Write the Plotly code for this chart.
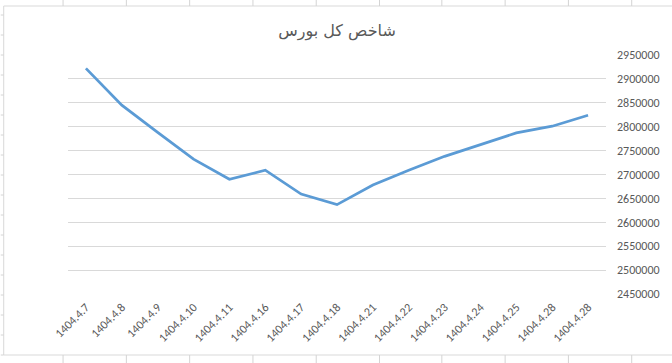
import plotly.graph_objects as go

# ---- data ----
categories = ["1404.4.7", "1404.4.8", "1404.4.9", "1404.4.10", "1404.4.11",
              "1404.4.16", "1404.4.17", "1404.4.18", "1404.4.21", "1404.4.22",
              "1404.4.23", "1404.4.24", "1404.4.25", "1404.4.28", "1404.4.28"]
index_values = [2922000, 2845000, 2788000, 2732000, 2690000,
                2709000, 2659000, 2637000, 2678000, 2709000,
                2738000, 2763000, 2787000, 2801000, 2824000]
y_ticks = [2450000, 2500000, 2550000, 2600000, 2650000, 2700000,
           2750000, 2800000, 2850000, 2900000, 2950000]
title_text = "شاخص کل بورس"

W, H = 672, 363
L, R, T, B = 68, 60, 55, 69
pw, ph = W - L - R, H - T - B

x_pos = list(range(len(categories)))

fig = go.Figure()
fig.add_trace(go.Scatter(
    x=x_pos, y=index_values, mode="lines",
    line=dict(color="#5B9BD5", width=2.75),
    hoverinfo="skip", showlegend=False,
))

# spreadsheet background decoration (pixel -> paper)
def px(xp):
    return (xp - L) / pw

def py(yp):
    return (H - B - yp) / ph

grid_col = "#d4d4d4"
shapes = []
# chart border
shapes.append(dict(type="rect", xref="paper", yref="paper",
                   x0=px(3), x1=px(700), y0=py(6), y1=py(355),
                   line=dict(color="#d9d9d9", width=1), fillcolor="rgba(0,0,0,0)",
                   layer="below"))
cols = [63, 127, 191, 255, 319, 383, 446, 510, 574, 638]
for c in cols:
    shapes.append(dict(type="line", xref="paper", yref="paper",
                       x0=px(c), x1=px(c), y0=py(0), y1=py(6),
                       line=dict(color=grid_col, width=1), layer="below"))
    shapes.append(dict(type="line", xref="paper", yref="paper",
                       x0=px(c), x1=px(c), y0=py(355), y1=py(363),
                       line=dict(color=grid_col, width=1), layer="below"))
for r in range(15, 356, 20):
    shapes.append(dict(type="line", xref="paper", yref="paper",
                       x0=px(0), x1=px(3), y0=py(r), y1=py(r),
                       line=dict(color=grid_col, width=1), layer="below"))

fig.update_layout(
    width=W, height=H,
    margin=dict(l=L, r=R, t=T, b=B, pad=0),
    paper_bgcolor="white", plot_bgcolor="white",
    font=dict(family="Calibri, Carlito, 'DejaVu Sans', sans-serif", color="#595959"),
    title=dict(text=title_text, x=0.5, xref="paper", xanchor="center",
               y=1 - 30 / H, yanchor="middle",
               font=dict(size=16, color="#595959", family="'DejaVu Sans', sans-serif")),
    xaxis=dict(
        tickmode="array", tickvals=x_pos, ticktext=categories,
        range=[-0.5, len(categories) - 0.5],
        tickangle=-45, showgrid=False, zeroline=False, showline=False,
        ticks="", tickfont=dict(size=12, color="#595959"),
        ticklabelstandoff=3,
    ),
    yaxis=dict(
        side="right", range=[2450000, 2950000],
        tickmode="array", tickvals=y_ticks,
        ticktext=[str(v) for v in y_ticks],
        showgrid=True, gridcolor="#d9d9d9", gridwidth=1,
        zeroline=False, showline=False, ticks="",
        tickfont=dict(size=12, color="#595959"),
        ticklabelstandoff=10,
    ),
    shapes=shapes,
)

fig.write_html("out.html")
